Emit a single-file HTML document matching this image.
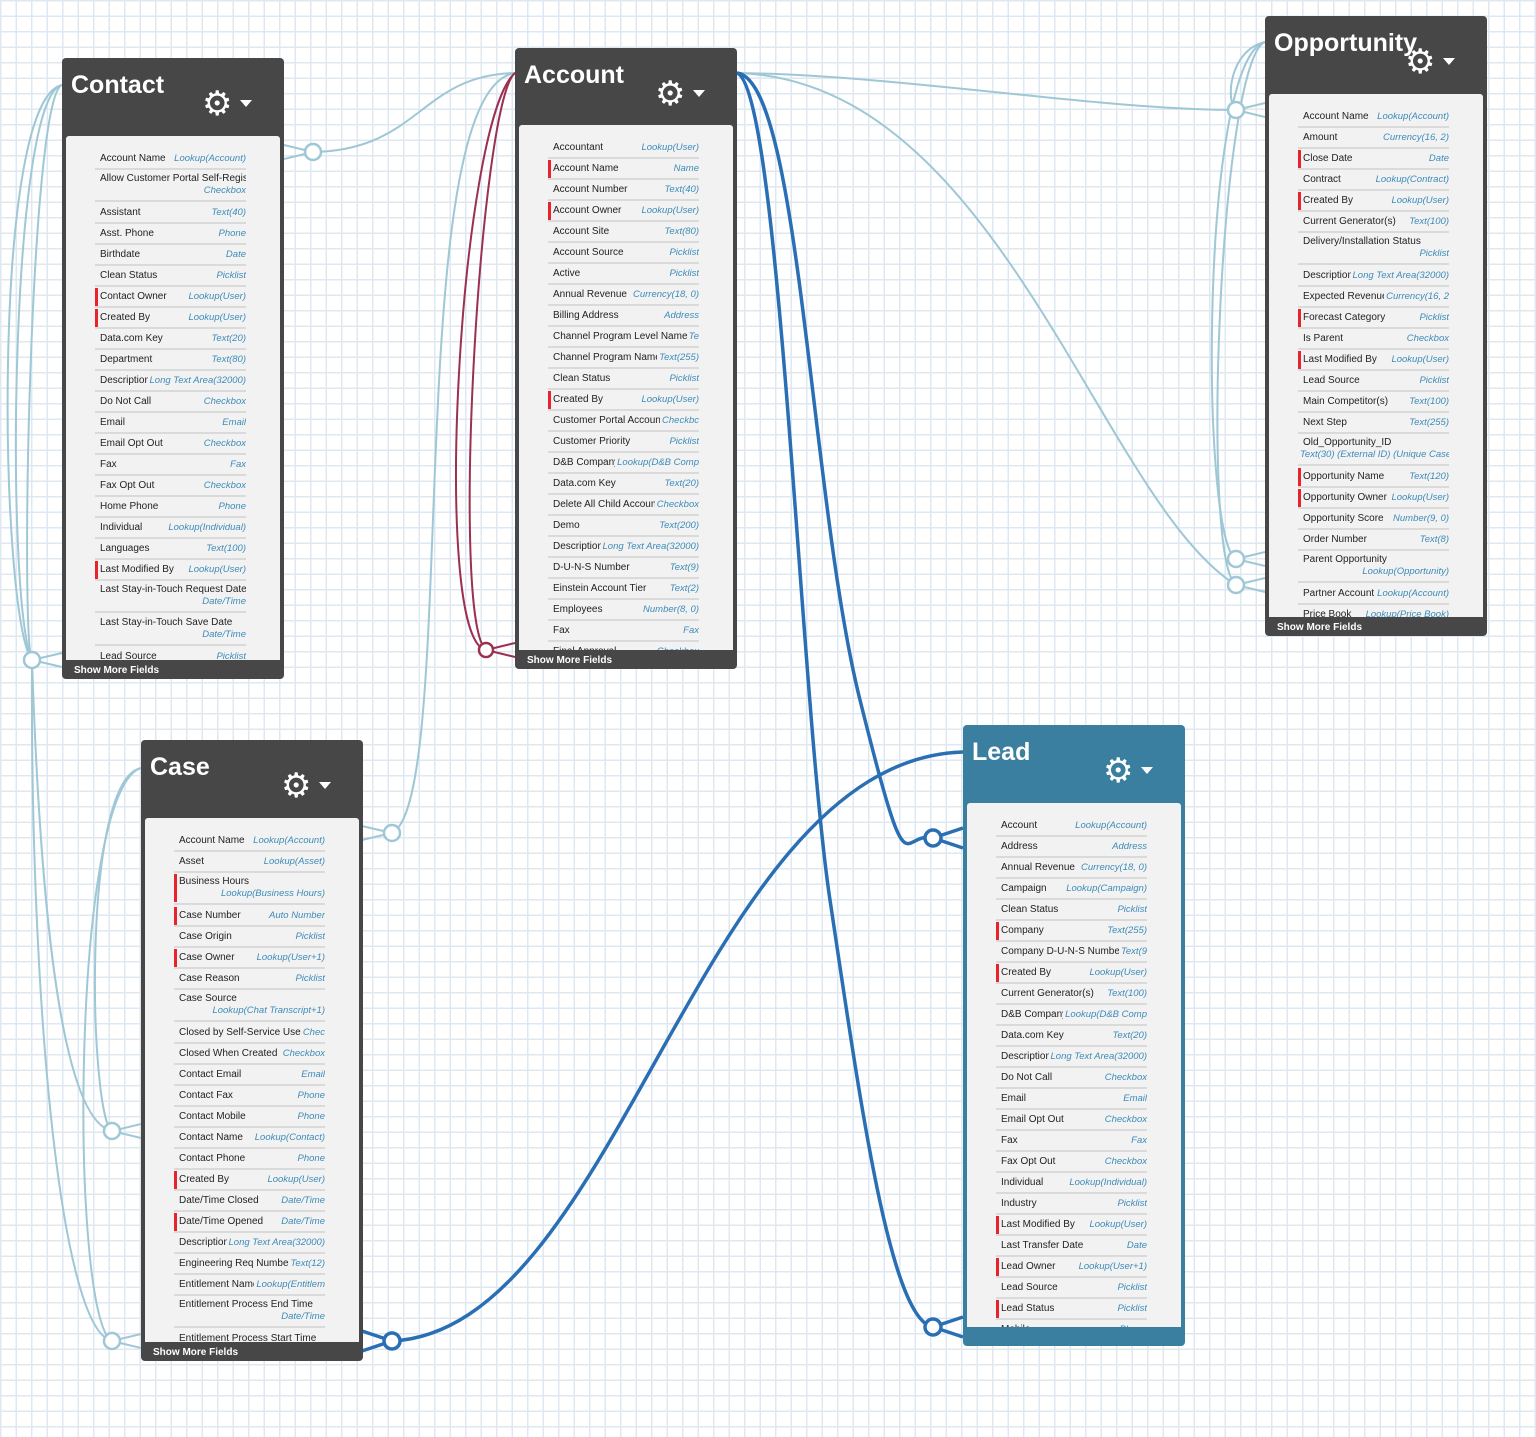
<!DOCTYPE html>
<html><head><meta charset="utf-8"><style>
body{margin:0;width:1536px;height:1437px;overflow:hidden;font-family:"Liberation Sans",Arial,sans-serif;
background-color:#fff;background-image:linear-gradient(#dfe8f0 1.5px,transparent 1.5px),linear-gradient(90deg,#dfe8f0 1.5px,transparent 1.5px);background-size:15.5px 15.5px;position:relative}
.b{position:absolute;width:222px;height:621px;background:#474747;border-radius:4px}
.b.lead{background:#3a7fa0}
.h{position:absolute;left:9px;top:13px;color:#fff;font-weight:bold;font-size:25px}
.g{position:absolute;left:140px;top:26px;color:#fff;font-size:34px;line-height:40px;font-family:"DejaVu Sans",sans-serif}
.g:after{content:"";position:absolute;left:38px;top:16px;border:6px solid transparent;border-top:7px solid #fff}
.p{position:absolute;left:4px;right:4px;top:78px;bottom:19px;background:#f2f2f2;border-radius:3px 3px 0 0;overflow:hidden}
.l{position:absolute;left:29px;width:151px;top:13px}
.r{position:relative;height:19px;border-bottom:2px solid #dadada;font-size:10px;color:#222;line-height:20px;padding-left:5px;white-space:nowrap;overflow:hidden}
.r.d{line-height:13px;padding-top:2px;height:28px;margin-bottom:1px}
.r i{position:absolute;right:0;top:0;color:#3d8bb8;font-size:9.5px;background:#f2f2f2;padding-left:2px}
.r.d i{top:14px}
.r.m:before{content:"";position:absolute;left:-1px;top:1px;width:4px;height:18px;background:#e8232b}
.r.d.m:before{height:28px}
.f{position:absolute;left:12px;bottom:3px;color:#fff;font-size:10px;font-weight:bold}
svg{position:absolute;left:0;top:0}
</style></head><body>
<svg width="1536" height="1437" fill="none">
<g stroke="#9fc7d6" stroke-width="2">
<path d="M62 85 C10 95 5 600 32 660"/><path d="M62 85 C30 95 20 640 32 660"/>
<path d="M62 85 C-10 100 0 620 32 660"/>
<path d="M32 660 C40 900 60 1120 112 1131"/><path d="M32 660 C30 1000 60 1330 112 1341"/>
<path d="M141 768 C80 780 90 1120 112 1131"/><path d="M141 768 C70 790 70 1320 112 1341"/>
<path d="M313 152 C420 150 420 75 515 73"/>
<path d="M392 833 C460 800 400 90 515 73"/>
<path d="M737 73 C900 75 1100 110 1236 110"/>
<path d="M737 73 C1000 80 1100 500 1236 585"/>
<path d="M1265 42 C1200 60 1200 540 1236 559"/><path d="M1265 42 C1220 60 1200 560 1236 585"/>
<path d="M1265 42 C1230 50 1225 100 1236 110"/>
<path d="M284 145 L313 152 M284 159 L313 152 M1236 110 L1265 103 M1236 110 L1265 117 M1236 559 L1265 552 M1236 559 L1265 566 M1236 585 L1265 578 M1236 585 L1265 592 M362 826 L392 833 M362 840 L392 833 M32 660 L62 653 M32 660 L62 667 M112 1131 L141 1124 M112 1131 L141 1138 M112 1341 L141 1334 M112 1341 L141 1348"/>
</g>
<g fill="#fff" stroke="#9fc7d6" stroke-width="2.5"><circle cx="313" cy="152" r="8"/><circle cx="1236" cy="110" r="8"/><circle cx="1236" cy="559" r="8"/><circle cx="1236" cy="585" r="8"/><circle cx="392" cy="833" r="8"/><circle cx="32" cy="660" r="8"/><circle cx="112" cy="1131" r="8"/><circle cx="112" cy="1341" r="8"/></g>
<g stroke="#9b3050" stroke-width="2"><path d="M515 73 C460 120 430 640 486 650"/><path d="M515 73 C480 100 450 620 486 650"/><path d="M486 650 L515 643 M486 650 L515 657"/></g>
<circle cx="486" cy="650" r="7" fill="#fff" stroke="#9b3050" stroke-width="2.5"/>
<g stroke="#2a6fb3" stroke-width="3.5"><path d="M737 73 C800 80 810 500 860 700 S900 830 933 838"/><path d="M737 73 C780 90 800 700 830 900 S890 1320 933 1327"/><path d="M963 752 C700 760 620 1330 392 1341"/>
<path d="M933 838 L963 828 M933 838 L963 848 M933 1327 L963 1317 M933 1327 L963 1337 M362 1331 L392 1341 M362 1351 L392 1341"/></g>
<g fill="#fff" stroke="#2a6fb3" stroke-width="3.5"><circle cx="933" cy="838" r="8"/><circle cx="933" cy="1327" r="8"/><circle cx="392" cy="1341" r="8"/></g>
</svg>

<div class="b" style="left:62px;top:58px"><div class="h">Contact</div><div class="g">⚙</div><div class="p"><div class="l">
<div class="r">Account Name<i>Lookup(Account)</i></div>
<div class="r d">Allow Customer Portal Self-Regis<i>Checkbox</i></div>
<div class="r">Assistant<i>Text(40)</i></div>
<div class="r">Asst. Phone<i>Phone</i></div>
<div class="r">Birthdate<i>Date</i></div>
<div class="r">Clean Status<i>Picklist</i></div>
<div class="r m">Contact Owner<i>Lookup(User)</i></div>
<div class="r m">Created By<i>Lookup(User)</i></div>
<div class="r">Data.com Key<i>Text(20)</i></div>
<div class="r">Department<i>Text(80)</i></div>
<div class="r">Description<i>Long Text Area(32000)</i></div>
<div class="r">Do Not Call<i>Checkbox</i></div>
<div class="r">Email<i>Email</i></div>
<div class="r">Email Opt Out<i>Checkbox</i></div>
<div class="r">Fax<i>Fax</i></div>
<div class="r">Fax Opt Out<i>Checkbox</i></div>
<div class="r">Home Phone<i>Phone</i></div>
<div class="r">Individual<i>Lookup(Individual)</i></div>
<div class="r">Languages<i>Text(100)</i></div>
<div class="r m">Last Modified By<i>Lookup(User)</i></div>
<div class="r d">Last Stay-in-Touch Request Date<i>Date/Time</i></div>
<div class="r d">Last Stay-in-Touch Save Date<i>Date/Time</i></div>
<div class="r">Lead Source<i>Picklist</i></div>
</div></div><div class="f">Show More Fields</div></div>

<div class="b" style="left:515px;top:48px"><div class="h">Account</div><div class="g">⚙</div><div class="p" style="top:77px"><div class="l">
<div class="r">Accountant<i>Lookup(User)</i></div>
<div class="r m">Account Name<i>Name</i></div>
<div class="r">Account Number<i>Text(40)</i></div>
<div class="r m">Account Owner<i>Lookup(User)</i></div>
<div class="r">Account Site<i>Text(80)</i></div>
<div class="r">Account Source<i>Picklist</i></div>
<div class="r">Active<i>Picklist</i></div>
<div class="r">Annual Revenue<i>Currency(18, 0)</i></div>
<div class="r">Billing Address<i>Address</i></div>
<div class="r">Channel Program Level Name<i>Te</i></div>
<div class="r">Channel Program Name<i>Text(255)</i></div>
<div class="r">Clean Status<i>Picklist</i></div>
<div class="r m">Created By<i>Lookup(User)</i></div>
<div class="r">Customer Portal Account<i>Checkbc</i></div>
<div class="r">Customer Priority<i>Picklist</i></div>
<div class="r">D&amp;B Company<i>Lookup(D&amp;B Comp</i></div>
<div class="r">Data.com Key<i>Text(20)</i></div>
<div class="r">Delete All Child Account<i>Checkbox</i></div>
<div class="r">Demo<i>Text(200)</i></div>
<div class="r">Description<i>Long Text Area(32000)</i></div>
<div class="r">D-U-N-S Number<i>Text(9)</i></div>
<div class="r">Einstein Account Tier<i>Text(2)</i></div>
<div class="r">Employees<i>Number(8, 0)</i></div>
<div class="r">Fax<i>Fax</i></div>
<div class="r">Final Approval<i>Checkbox</i></div>
</div></div><div class="f">Show More Fields</div></div>

<div class="b" style="left:1265px;top:16px;height:620px"><div class="h">Opportunity</div><div class="g">⚙</div><div class="p"><div class="l">
<div class="r">Account Name<i>Lookup(Account)</i></div>
<div class="r">Amount<i>Currency(16, 2)</i></div>
<div class="r m">Close Date<i>Date</i></div>
<div class="r">Contract<i>Lookup(Contract)</i></div>
<div class="r m">Created By<i>Lookup(User)</i></div>
<div class="r">Current Generator(s)<i>Text(100)</i></div>
<div class="r d">Delivery/Installation Status<i>Picklist</i></div>
<div class="r">Description<i>Long Text Area(32000)</i></div>
<div class="r">Expected Revenue<i>Currency(16, 2</i></div>
<div class="r m">Forecast Category<i>Picklist</i></div>
<div class="r">Is Parent<i>Checkbox</i></div>
<div class="r m">Last Modified By<i>Lookup(User)</i></div>
<div class="r">Lead Source<i>Picklist</i></div>
<div class="r">Main Competitor(s)<i>Text(100)</i></div>
<div class="r">Next Step<i>Text(255)</i></div>
<div class="r d">Old_Opportunity_ID<i style="right:auto;left:0">Text(30) (External ID) (Unique Case</i></div>
<div class="r m">Opportunity Name<i>Text(120)</i></div>
<div class="r m">Opportunity Owner<i>Lookup(User)</i></div>
<div class="r">Opportunity Score<i>Number(9, 0)</i></div>
<div class="r">Order Number<i>Text(8)</i></div>
<div class="r d">Parent Opportunity<i>Lookup(Opportunity)</i></div>
<div class="r">Partner Account<i>Lookup(Account)</i></div>
<div class="r">Price Book<i>Lookup(Price Book)</i></div>
</div></div><div class="f">Show More Fields</div></div>

<div class="b" style="left:141px;top:740px"><div class="h">Case</div><div class="g">⚙</div><div class="p"><div class="l">
<div class="r">Account Name<i>Lookup(Account)</i></div>
<div class="r">Asset<i>Lookup(Asset)</i></div>
<div class="r d m">Business Hours<i>Lookup(Business Hours)</i></div>
<div class="r m">Case Number<i>Auto Number</i></div>
<div class="r">Case Origin<i>Picklist</i></div>
<div class="r m">Case Owner<i>Lookup(User+1)</i></div>
<div class="r">Case Reason<i>Picklist</i></div>
<div class="r d">Case Source<i>Lookup(Chat Transcript+1)</i></div>
<div class="r">Closed by Self-Service User<i>Chec</i></div>
<div class="r">Closed When Created<i>Checkbox</i></div>
<div class="r">Contact Email<i>Email</i></div>
<div class="r">Contact Fax<i>Phone</i></div>
<div class="r">Contact Mobile<i>Phone</i></div>
<div class="r">Contact Name<i>Lookup(Contact)</i></div>
<div class="r">Contact Phone<i>Phone</i></div>
<div class="r m">Created By<i>Lookup(User)</i></div>
<div class="r">Date/Time Closed<i>Date/Time</i></div>
<div class="r m">Date/Time Opened<i>Date/Time</i></div>
<div class="r">Description<i>Long Text Area(32000)</i></div>
<div class="r">Engineering Req Number<i>Text(12)</i></div>
<div class="r">Entitlement Name<i>Lookup(Entitlem</i></div>
<div class="r d">Entitlement Process End Time<i>Date/Time</i></div>
<div class="r">Entitlement Process Start Time</div>
</div></div><div class="f">Show More Fields</div></div>

<div class="b lead" style="left:963px;top:725px"><div class="h">Lead</div><div class="g">⚙</div><div class="p"><div class="l">
<div class="r">Account<i>Lookup(Account)</i></div>
<div class="r">Address<i>Address</i></div>
<div class="r">Annual Revenue<i>Currency(18, 0)</i></div>
<div class="r">Campaign<i>Lookup(Campaign)</i></div>
<div class="r">Clean Status<i>Picklist</i></div>
<div class="r m">Company<i>Text(255)</i></div>
<div class="r">Company D-U-N-S Number<i>Text(9</i></div>
<div class="r m">Created By<i>Lookup(User)</i></div>
<div class="r">Current Generator(s)<i>Text(100)</i></div>
<div class="r">D&amp;B Company<i>Lookup(D&amp;B Comp</i></div>
<div class="r">Data.com Key<i>Text(20)</i></div>
<div class="r">Description<i>Long Text Area(32000)</i></div>
<div class="r">Do Not Call<i>Checkbox</i></div>
<div class="r">Email<i>Email</i></div>
<div class="r">Email Opt Out<i>Checkbox</i></div>
<div class="r">Fax<i>Fax</i></div>
<div class="r">Fax Opt Out<i>Checkbox</i></div>
<div class="r">Individual<i>Lookup(Individual)</i></div>
<div class="r">Industry<i>Picklist</i></div>
<div class="r m">Last Modified By<i>Lookup(User)</i></div>
<div class="r">Last Transfer Date<i>Date</i></div>
<div class="r m">Lead Owner<i>Lookup(User+1)</i></div>
<div class="r">Lead Source<i>Picklist</i></div>
<div class="r m">Lead Status<i>Picklist</i></div>
<div class="r">Mobile<i>Phone</i></div>
</div></div><div class="f"></div></div>
</body></html>
